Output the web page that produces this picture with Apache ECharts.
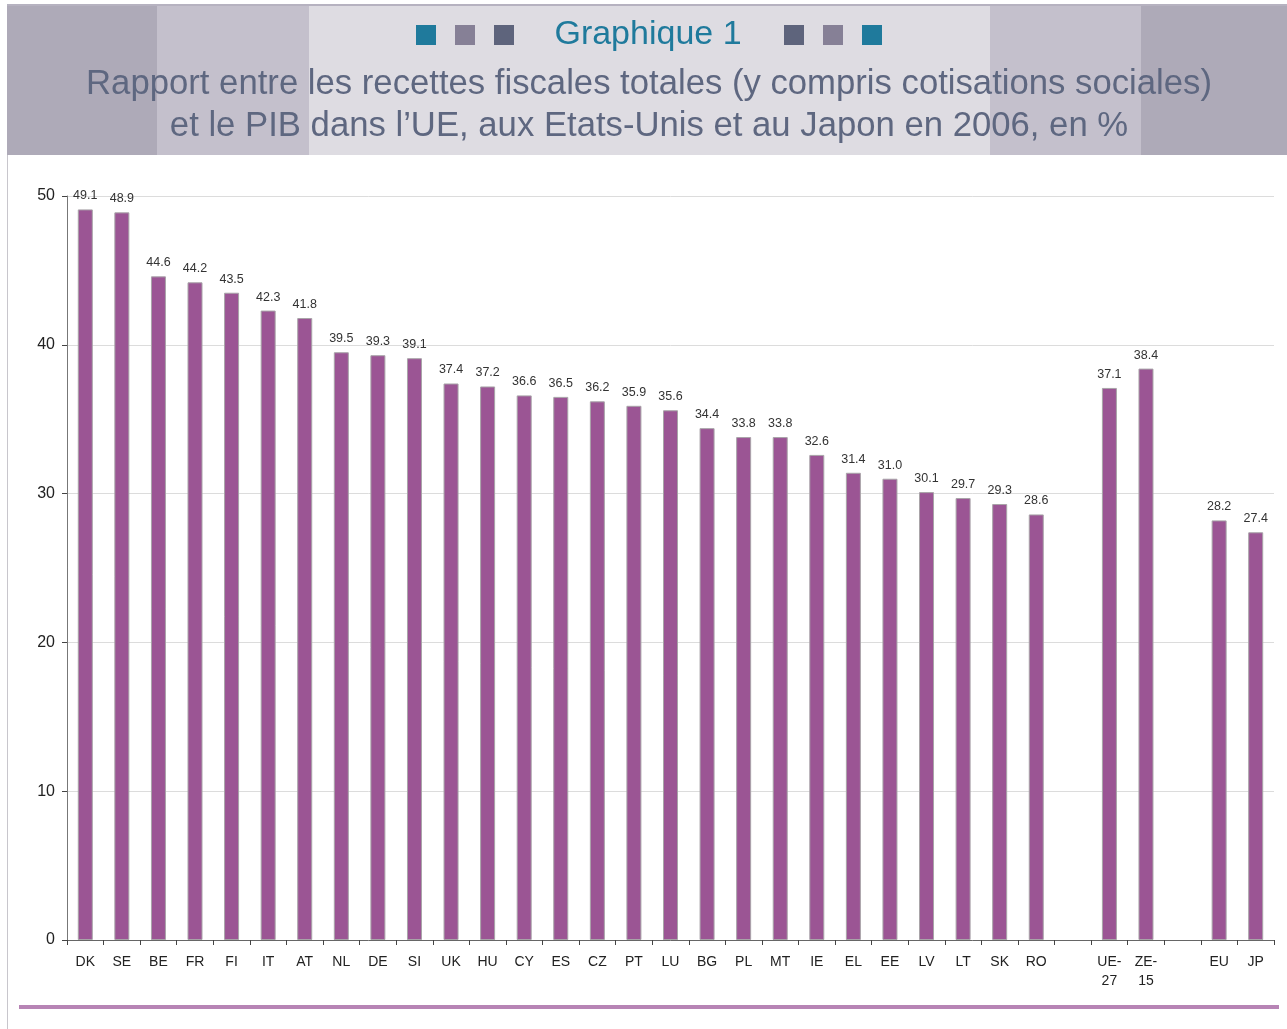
<!DOCTYPE html>
<html>
<head>
<meta charset="utf-8">
<style>
  html, body { margin: 0; padding: 0; background: #ffffff; }
  #chart { width: 1287px; height: 1029px; }
</style>
<script src="https://cdn.jsdelivr.net/npm/echarts@6/dist/echarts.min.js"></script>
</head>
<body>
<div id="chart"></div>
<script>
// Categories: EU member states, then EU aggregates, then the US and Japan (blank slots separate the groups)
const categories = [
  'DK', 'SE', 'BE', 'FR', 'FI', 'IT', 'AT', 'NL', 'DE', 'SI', 'UK', 'HU', 'CY', 'ES',
  'CZ', 'PT', 'LU', 'BG', 'PL', 'MT', 'IE', 'EL', 'EE', 'LV', 'LT', 'SK', 'RO',
  '', 'UE-\n27', 'ZE-\n15', '', 'EU', 'JP'
];

// Total tax receipts (incl. social contributions) as % of GDP, 2006
const taxRatio = [
  49.1, 48.9, 44.6, 44.2, 43.5, 42.3, 41.8, 39.5, 39.3, 39.1, 37.4, 37.2, 36.6, 36.5,
  36.2, 35.9, 35.6, 34.4, 33.8, 33.8, 32.6, 31.4, 31.0, 30.1, 29.7, 29.3, 28.6,
  null, 37.1, 38.4, null, 28.2, 27.4
];

const yTicks = { min: 0, max: 50, interval: 10 };

const titleText = 'Graphique 1';
const subtitleLines = [
  'Rapport entre les recettes fiscales totales (y compris cotisations sociales)',
  'et le PIB dans l\u2019UE, aux Etats-Unis et au Japon en 2006, en %'
];

const chart = echarts.init(document.getElementById('chart'), null, { renderer: 'canvas' });

const FONT = '"Liberation Sans", Arial, Helvetica, sans-serif';
const dark = '#aeaab8', mid = '#c4c0cc', light = '#dedce2';
const teal = '#1f7a9c', grayA = '#868096', grayB = '#5e647c';

function square(x, color) {
  return { type: 'rect', shape: { x: x, y: 25, width: 20, height: 20 }, style: { fill: color } };
}

chart.setOption({
  animation: false,
  backgroundColor: '#ffffff',
  graphic: [
    // header band
    { type: 'rect', shape: { x: 7, y: 5, width: 1280, height: 150 }, style: { fill: dark } },
    { type: 'rect', shape: { x: 157, y: 6, width: 152, height: 149 }, style: { fill: mid } },
    { type: 'rect', shape: { x: 990, y: 6, width: 151, height: 149 }, style: { fill: mid } },
    { type: 'rect', shape: { x: 309, y: 6, width: 681, height: 149 }, style: { fill: light } },
    { type: 'line', shape: { x1: 7, y1: 5, x2: 1287, y2: 5 }, style: { stroke: '#b6b2c0', lineWidth: 2 } },
    // frame line down the left side
    { type: 'line', shape: { x1: 7.5, y1: 155, x2: 7.5, y2: 1029 }, style: { stroke: '#c8c6cc', lineWidth: 1 } },
    // decorative squares
    square(416, teal), square(455, grayA), square(494, grayB),
    square(784, grayB), square(823, grayA), square(862, teal),
    {
      type: 'text', x: 648, y: 35,
      style: { text: titleText, font: '34px ' + FONT, fill: teal, textAlign: 'center', textVerticalAlign: 'middle' }
    },
    {
      type: 'text', x: 649, y: 84,
      style: { text: subtitleLines[0], font: '34.7px ' + FONT, fill: '#5e6780', textAlign: 'center', textVerticalAlign: 'middle' }
    },
    {
      type: 'text', x: 649, y: 126,
      style: { text: subtitleLines[1], font: '34.7px ' + FONT, fill: '#5e6780', textAlign: 'center', textVerticalAlign: 'middle' }
    },
    // bottom rule
    { type: 'rect', shape: { x: 19, y: 1005, width: 1260, height: 4 }, style: { fill: '#b784b5' } }
  ],
  grid: { left: 67, right: 13, top: 196, bottom: 89, containLabel: false },
  xAxis: {
    type: 'category',
    data: categories,
    boundaryGap: true,
    axisLine: { lineStyle: { color: '#666', width: 1 } },
    axisTick: { show: true, length: 5, alignWithLabel: false, lineStyle: { color: '#444' } },
    axisLabel: { interval: 0, color: '#222', fontSize: 14, fontFamily: FONT, margin: 13, lineHeight: 19 },
    splitLine: { show: false }
  },
  yAxis: {
    type: 'value',
    min: yTicks.min, max: yTicks.max, interval: yTicks.interval,
    axisLine: { show: true, lineStyle: { color: '#777', width: 1 } },
    axisTick: { show: true, length: 5, lineStyle: { color: '#444' } },
    axisLabel: { color: '#222', fontSize: 16, fontFamily: FONT, margin: 12 },
    splitLine: { lineStyle: { color: '#dcdcdc', width: 1 } }
  },
  series: [{
    type: 'bar',
    data: taxRatio,
    barWidth: 15,
    itemStyle: { color: '#9b5594', borderColor: '#a8a4a8', borderWidth: 1 },
    label: {
      show: true, position: 'top', distance: 7,
      color: '#333', fontSize: 12.5, fontFamily: FONT,
      formatter: p => (p.value == null ? '' : Number(p.value).toFixed(1))
    }
  }]
});
</script>
</body>
</html>
